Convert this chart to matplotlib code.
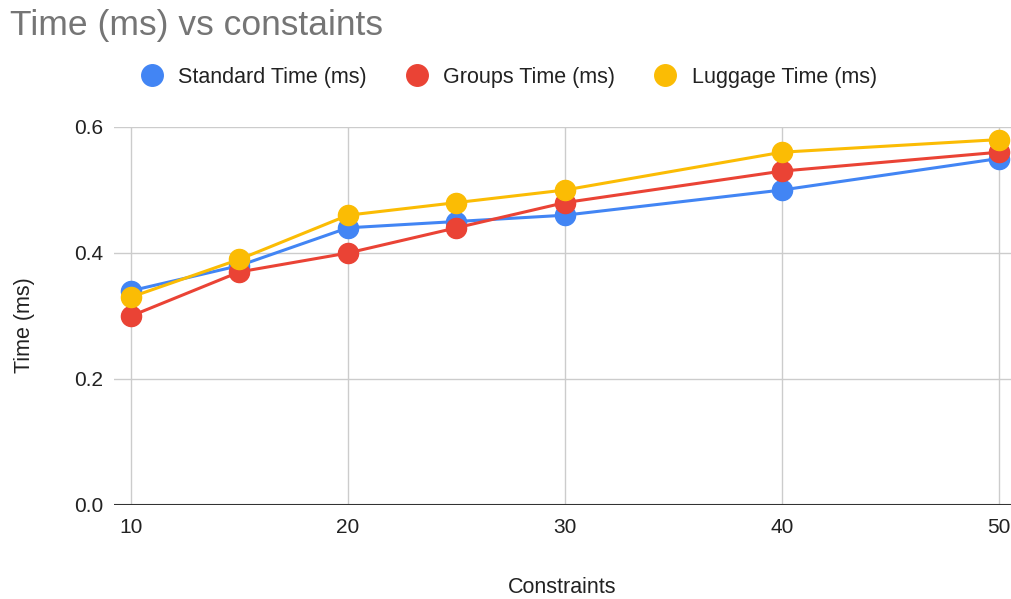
import matplotlib.pyplot as plt
from matplotlib.lines import Line2D

plt.rcParams['font.family'] = ['Liberation Sans', 'DejaVu Sans']

# Timing results per number of constraints
constraints = [10, 15, 20, 25, 30, 40, 50]
standard_ms = [0.34, 0.38, 0.44, 0.45, 0.46, 0.50, 0.55]
groups_ms = [0.30, 0.37, 0.40, 0.44, 0.48, 0.53, 0.56]
luggage_ms = [0.33, 0.39, 0.46, 0.48, 0.50, 0.56, 0.58]

series = [
    ("Standard Time (ms)", standard_ms, "#4285F4"),
    ("Groups Time (ms)", groups_ms, "#EA4335"),
    ("Luggage Time (ms)", luggage_ms, "#FBBC04"),
]

W, H = 1011, 599
fig = plt.figure(figsize=(W / 100, H / 100), dpi=100)
ax = fig.add_axes([114 / W, 1 - 505 / H, 897 / W, 378 / H])

for name, vals, col in series:
    ax.plot(constraints, vals, '-o', color=col, lw=2.2, ms=14.5, label=name,
            clip_on=False, zorder=3)

ax.set_xlim(9.217, 50.553)
ax.set_ylim(0, 0.6)
ax.set_xticks([10, 20, 30, 40, 50])
ax.set_yticks([0.0, 0.2, 0.4, 0.6])
ax.set_yticklabels(["0.0", "0.2", "0.4", "0.6"])
ax.grid(True, color="#cccccc", lw=1)
ax.set_axisbelow(True)
for s in ax.spines.values():
    s.set_visible(False)
ax.axhline(0, color="#333333", lw=1.5, zorder=2)
ax.tick_params(length=0, labelsize=15, colors="#222222")
ax.tick_params(axis='y', pad=8)
ax.tick_params(axis='x', pad=9.5)

ax.set_xlabel("Constraints", fontsize=15.5, color="#222222", va="baseline")
ax.xaxis.set_label_coords(0.5, -0.233)
ax.set_ylabel("Time (ms)", fontsize=15.5, color="#222222", va="baseline")
ax.yaxis.set_label_coords(-0.094, 0.476)

fig.text(10 / W, 1 - 35 / H, "Time (ms) vs constaints", fontsize=25.5,
         color="#757575", va="baseline", ha="left")

handles = [Line2D([], [], ls='none', marker='o', ms=15.5, color=c) for _, _, c in series]
fig.legend(handles, [n for n, _, _ in series], loc='center left',
           bbox_to_anchor=(141.25 / W, 1 - 77 / H), ncol=3, frameon=False,
           fontsize=15.5, borderpad=0, borderaxespad=0, handletextpad=0.71,
           columnspacing=1.84, handlelength=1.0, labelcolor="#222222")

fig.savefig("out.png", dpi=100)
